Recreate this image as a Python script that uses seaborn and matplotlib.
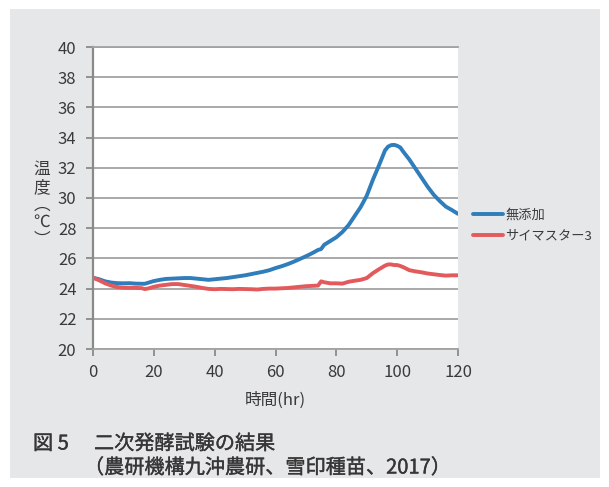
import matplotlib
matplotlib.use("Agg")
import matplotlib.pyplot as plt
import matplotlib.patheffects as pe
from matplotlib.patches import Rectangle
import numpy as np
import pandas as pd
import seaborn as sns

# elapsed time of the secondary fermentation test (hours)
hours = [0, 2, 4, 6, 8, 10, 12, 14, 16, 17, 18, 20, 22, 24, 26, 28, 30, 32, 34, 36,
         38, 40, 42, 44, 46, 48, 50, 52, 54, 56, 58, 60, 62, 64, 66, 68, 70, 72, 74,
         75, 76, 78, 80, 82, 84, 86, 88, 90, 92, 94, 96, 97, 98, 99, 100, 101, 102,
         104, 106, 108, 110, 112, 114, 116, 118, 120]

# silage temperature without additive (°C)
temp_control = [24.72, 24.62, 24.48, 24.40, 24.36, 24.35, 24.36, 24.33, 24.32, 24.32,
                24.38, 24.50, 24.58, 24.64, 24.66, 24.68, 24.70, 24.70, 24.66, 24.62,
                24.58, 24.62, 24.66, 24.70, 24.76, 24.82, 24.88, 24.96, 25.04, 25.12,
                25.22, 25.36, 25.48, 25.62, 25.78, 25.96, 26.14, 26.34, 26.56, 26.62,
                26.90, 27.15, 27.40, 27.75, 28.20, 28.80, 29.40, 30.15, 31.20, 32.15,
                33.15, 33.40, 33.50, 33.52, 33.46, 33.35, 33.07, 32.55, 31.95, 31.35,
                30.75, 30.22, 29.80, 29.43, 29.20, 28.95]

# silage temperature with サイマスター3 (°C)
temp_saimaster = [24.72, 24.55, 24.35, 24.20, 24.10, 24.06, 24.05, 24.05, 24.03, 23.97,
                  24.00, 24.12, 24.20, 24.25, 24.30, 24.30, 24.24, 24.18, 24.12, 24.04,
                  23.98, 23.96, 23.98, 23.97, 23.96, 23.98, 23.97, 23.96, 23.94, 23.98,
                  24.00, 24.00, 24.02, 24.04, 24.08, 24.12, 24.16, 24.18, 24.20, 24.48,
                  24.42, 24.35, 24.35, 24.33, 24.45, 24.52, 24.58, 24.70, 25.02, 25.28,
                  25.52, 25.60, 25.60, 25.56, 25.56, 25.50, 25.42, 25.22, 25.14, 25.08,
                  25.00, 24.95, 24.90, 24.86, 24.88, 24.88]

series_names = ["無添加", "サイマスター3"]
series_colors = ["#2f7dba", "#e35a5c"]

x_ticks = [0, 20, 40, 60, 80, 100, 120]
y_ticks = [20, 22, 24, 26, 28, 30, 32, 34, 36, 38, 40]

df = pd.concat([
    pd.DataFrame({"時間": hours, "温度": temp_control, "区分": series_names[0]}),
    pd.DataFrame({"時間": hours, "温度": temp_saimaster, "区分": series_names[1]}),
], ignore_index=True)

sns.set_theme(style="white")
plt.rcParams["font.family"] = ["Noto Sans CJK JP", "DejaVu Sans"]

W, H = 609, 487
fig = plt.figure(figsize=(W / 100, H / 100), dpi=100, facecolor="white")

# grey panel behind the whole figure
fig.add_artist(Rectangle((10 / W, 1 - 478 / H), 590 / W, 469 / H,
                         transform=fig.transFigure, facecolor="#e6e7e9",
                         edgecolor="none", zorder=-10))

ax = fig.add_axes([93 / W, 1 - 349 / H, 365 / W, 302 / H])
ax.set_facecolor("white")

sns.lineplot(data=df, x="時間", y="温度", hue="区分", hue_order=series_names,
             palette=series_colors, linewidth=2.8, ax=ax, legend=True,
             solid_capstyle="round", solid_joinstyle="round")

ax.set_xlim(0, 120)
ax.set_ylim(20, 40)
ax.set_xticks(x_ticks)
ax.set_yticks(y_ticks)

grid_c = "#a3a3a3"
ax.yaxis.grid(True, color=grid_c, linewidth=1.3)
ax.xaxis.grid(False)
ax.set_axisbelow(True)
ax.spines["right"].set_visible(False)
ax.spines["top"].set_color(grid_c)
ax.spines["top"].set_linewidth(1.3)
ax.spines["bottom"].set_color(grid_c)
ax.spines["bottom"].set_linewidth(1.3)
ax.spines["left"].set_color("#8a8a8a")
ax.spines["left"].set_linewidth(1.6)

ax.tick_params(axis="both", which="major", direction="out", length=5, width=1.3,
               color="#8a8a8a", labelcolor="#3a3a3a", labelsize=12,
               left=True, bottom=True)
ax.tick_params(axis="y", pad=7)
ax.tick_params(axis="x", pad=6)

ax.set_xlabel("")
ax.set_ylabel("")

# axis titles
fig.text(275.5 / W, 1 - 400 / H, "時間(hr)", ha="center", va="center",
         fontsize=12, color="#3a3a3a")
fig.text(42 / W, 1 - 205 / H, "温\n度\n︵\n℃\n︶", ha="center", va="center",
         fontsize=12, color="#3a3a3a", linespacing=1.05, multialignment="center")

# legend to the right of the plot
handles, labels = ax.get_legend_handles_labels()
ax.get_legend().remove()
leg = fig.legend(handles, labels, loc="center left",
                 bbox_to_anchor=(472.7 / W, 1 - 226 / H),
                 bbox_transform=fig.transFigure, frameon=False,
                 fontsize=9.5, handlelength=2.3, handletextpad=0.15,
                 labelspacing=0.6, borderpad=0, borderaxespad=0)
for t in leg.get_texts():
    t.set_color("#3a3a3a")
for l in leg.get_lines():
    l.set_linewidth(2.8)

# figure caption, slightly heavier than the regular weight
cap_color = "#363636"
cap_kw = dict(ha="left", va="center", fontsize=14.5, color=cap_color,
              path_effects=[pe.withStroke(linewidth=0.25, foreground=cap_color)])
fig.text(33 / W, 1 - 444 / H, "図 5", **cap_kw)
fig.text(94 / W, 1 - 444 / H, "二次発酵試験の結果", **cap_kw)
fig.text(84 / W, 1 - 468 / H, "（農研機構九沖農研、雪印種苗、2017）", **cap_kw)

fig.savefig("out.png", dpi=100, facecolor="white")
